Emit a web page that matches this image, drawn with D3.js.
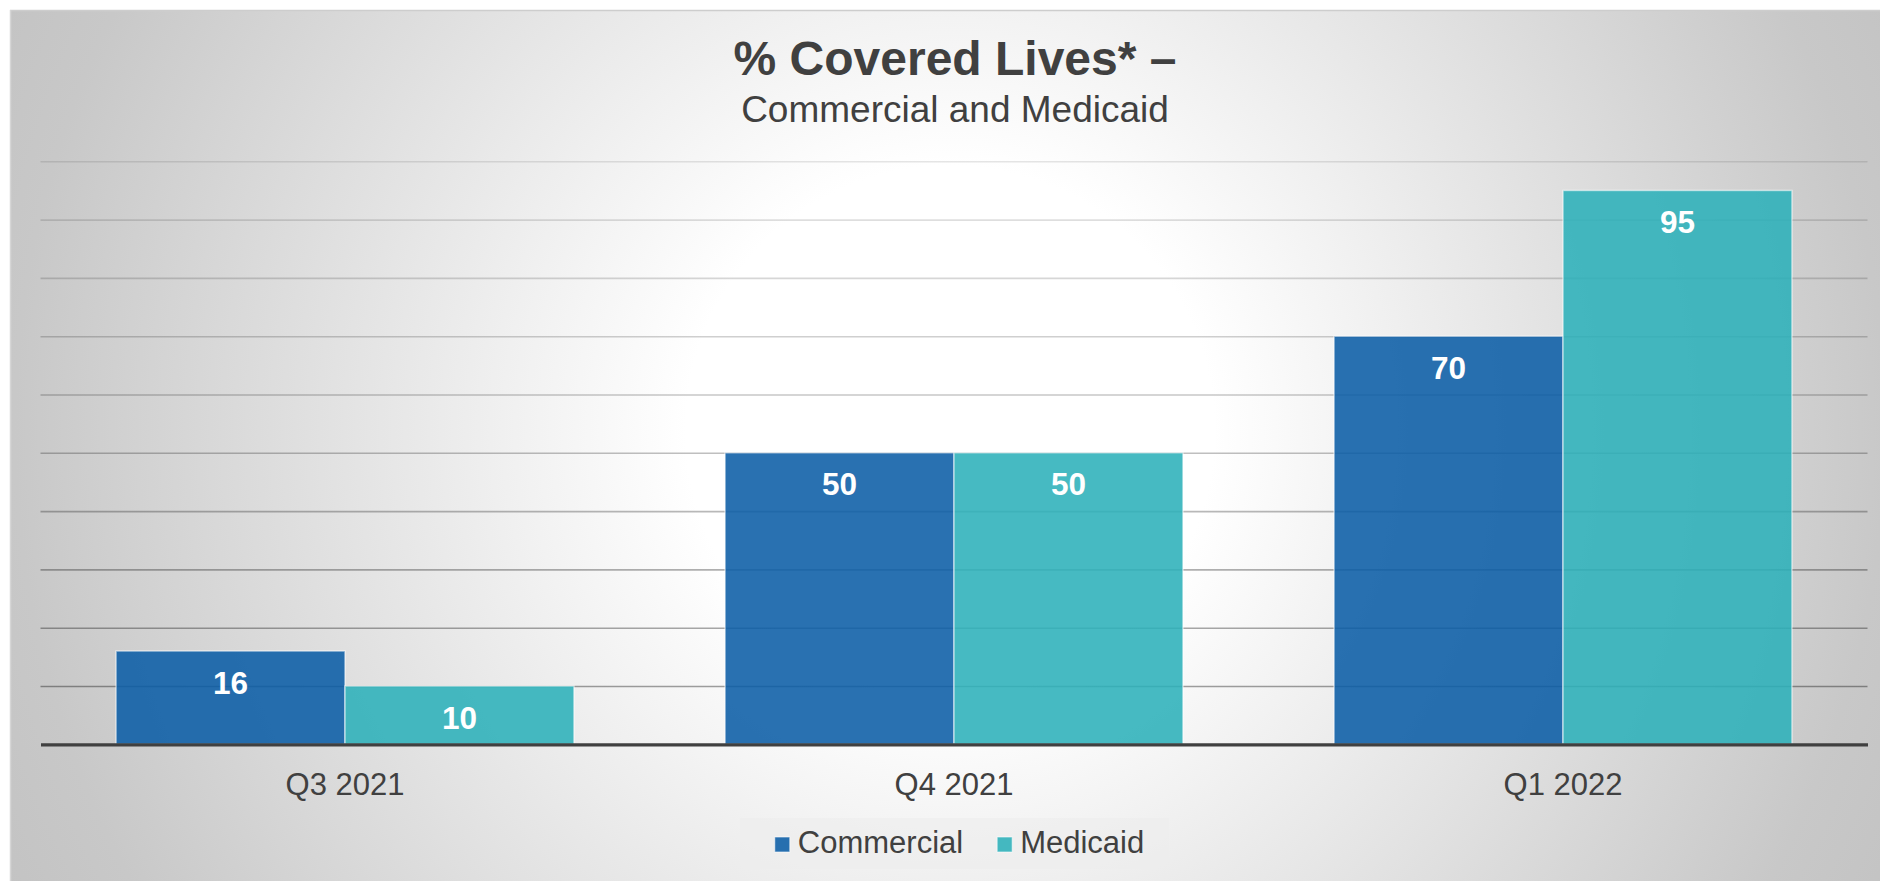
<!DOCTYPE html>
<html>
<head>
<meta charset="utf-8">
<title>% Covered Lives – Commercial and Medicaid</title>
<script src="https://cdn.jsdelivr.net/npm/d3@7"></script>
<style>
  html, body { margin: 0; padding: 0; background: #ffffff; }
  svg { display: block; font-family: "Liberation Sans", Arial, Helvetica, sans-serif; }
</style>
</head>
<body>
<svg id="chart" width="1880" height="881"></svg>
<script>
// Chart data
const categories = ["Q3 2021", "Q4 2021", "Q1 2022"];
const seriesNames = ["Commercial", "Medicaid"];
const commercialValues = [16, 50, 70];
const medicaidValues = [10, 50, 95];
const gridValues = [10, 20, 30, 40, 50, 60, 70, 80, 90, 100];
const titleText = "% Covered Lives* \u2013";
const subtitleText = "Commercial and Medicaid";

const seriesColors = { Commercial: "#0b5da6", Medicaid: "#2cb0ba" };
const valuesBySeries = { Commercial: commercialValues, Medicaid: medicaidValues };

const rows = categories.map((c, i) => ({
  category: c,
  values: seriesNames.map(s => ({ series: s, value: valuesBySeries[s][i] }))
}));

const W = 1880, H = 881;
const plot = { left: 40.5, right: 1867.5, top: 161.3, bottom: 744.3 };

const svg = d3.select("#chart");
const defs = svg.append("defs");

// Soft radial backdrop: white centre fading to grey edges
const bg = defs.append("radialGradient")
  .attr("id", "bgGrad")
  .attr("gradientUnits", "userSpaceOnUse")
  .attr("cx", 950).attr("cy", 430).attr("r", 1100);
bg.append("stop").attr("offset", 0).attr("stop-color", "#ffffff");
bg.append("stop").attr("offset", 0.24).attr("stop-color", "#ffffff");
bg.append("stop").attr("offset", 0.85).attr("stop-color", "#c8c8c8");
bg.append("stop").attr("offset", 1).attr("stop-color", "#c1c1c1");

svg.append("rect")
  .attr("x", 10).attr("y", 10)
  .attr("width", W - 10).attr("height", H - 10)
  .attr("fill", "url(#bgGrad)");

// Frame edges (top and left)
svg.append("line").attr("x1", 10).attr("x2", W).attr("y1", 10.5).attr("y2", 10.5)
  .attr("stroke", "#cdcdcd").attr("stroke-width", 1.5);
svg.append("line").attr("x1", 10.5).attr("x2", 10.5).attr("y1", 10).attr("y2", H)
  .attr("stroke", "#d6d6d6").attr("stroke-width", 1.5);

// Scales
const x0 = d3.scaleBand()
  .domain(categories)
  .range([plot.left, plot.right])
  .paddingInner(0).paddingOuter(0);

const x1 = d3.scaleBand()
  .domain(seriesNames)
  .range([0, x0.bandwidth()])
  .paddingInner(0).paddingOuter(0.33);

const y = d3.scaleLinear().domain([0, 100]).range([plot.bottom, plot.top]);

// Horizontal gridlines
const gridAlpha = d3.scaleLinear().domain([100, 0]).range([0.1, 0.4]);
const grid = svg.append("g")
  .attr("transform", `translate(${plot.left},0)`)
  .call(d3.axisLeft(y).tickValues(gridValues).tickSize(-(plot.right - plot.left)).tickFormat(""));
grid.select(".domain").remove();
grid.selectAll(".tick line")
  .attr("stroke", d => `rgba(0,0,0,${gridAlpha(d)})`)
  .attr("stroke-width", 1.6);

// Bars
const groups = svg.append("g").selectAll("g")
  .data(rows)
  .join("g")
  .attr("transform", d => `translate(${x0(d.category)},0)`);

groups.selectAll("rect")
  .data(d => d.values)
  .join("rect")
  .attr("x", d => x1(d.series))
  .attr("y", d => y(d.value))
  .attr("width", x1.bandwidth())
  .attr("height", d => y(0) - y(d.value))
  .attr("fill", d => seriesColors[d.series])
  .attr("fill-opacity", 0.88)
  .attr("stroke", "rgba(255,255,255,0.55)")
  .attr("stroke-width", 1.5);

// Value labels inside bar tops
groups.selectAll("text")
  .data(d => d.values)
  .join("text")
  .attr("x", d => x1(d.series) + x1.bandwidth() / 2)
  .attr("y", d => y(d.value) + 42.5)
  .attr("text-anchor", "middle")
  .attr("fill", "#ffffff")
  .attr("font-weight", "bold")
  .attr("font-size", "31.5px")
  .text(d => d.value);

// Category axis with dark baseline
const xAxis = svg.append("g")
  .attr("transform", `translate(0,${plot.bottom})`)
  .call(d3.axisBottom(x0).tickSize(0).tickSizeOuter(0));
xAxis.select(".domain")
  .attr("stroke", "#404040")
  .attr("stroke-width", 3.2);
xAxis.selectAll(".tick text")
  .attr("y", 51)
  .attr("dy", null)
  .attr("fill", "#404040")
  .attr("font-size", "31px")
  .attr("font-family", "\"Liberation Sans\", Arial, sans-serif");

// Title
svg.append("text")
  .attr("x", 955).attr("y", 75)
  .attr("text-anchor", "middle")
  .attr("fill", "#404040")
  .attr("font-weight", "bold")
  .attr("font-size", "48px")
  .text(titleText);

svg.append("text")
  .attr("x", 955).attr("y", 122)
  .attr("text-anchor", "middle")
  .attr("fill", "#404040")
  .attr("font-size", "37px")
  .text(subtitleText);

// Legend
const legend = svg.append("g");
const legendBox = legend.append("rect")
  .attr("fill", "#ececec")
  .attr("fill-opacity", 0.6);

const items = legend.selectAll("g.item")
  .data(seriesNames)
  .join("g")
  .attr("class", "item");

items.append("rect")
  .attr("width", 15).attr("height", 15)
  .attr("y", -16)
  .attr("fill", d => seriesColors[d])
  .attr("fill-opacity", 0.88)
  .attr("stroke", "rgba(255,255,255,0.6)")
  .attr("stroke-width", 1);

items.append("text")
  .attr("x", 23)
  .attr("y", 0)
  .attr("fill", "#404040")
  .attr("font-size", "31px")
  .text(d => d);

let cursor = 0;
items.each(function () {
  const g = d3.select(this);
  const tw = g.select("text").node().getComputedTextLength();
  g.attr("transform", `translate(${cursor},0)`);
  cursor += 23 + tw + 34;
});
const contentWidth = cursor - 34;
const legendLeft = 959.5 - contentWidth / 2;
legend.attr("transform", `translate(${legendLeft},853)`);
legendBox
  .attr("x", -35).attr("y", -35)
  .attr("width", contentWidth + 60)
  .attr("height", 51);
</script>
</body>
</html>
